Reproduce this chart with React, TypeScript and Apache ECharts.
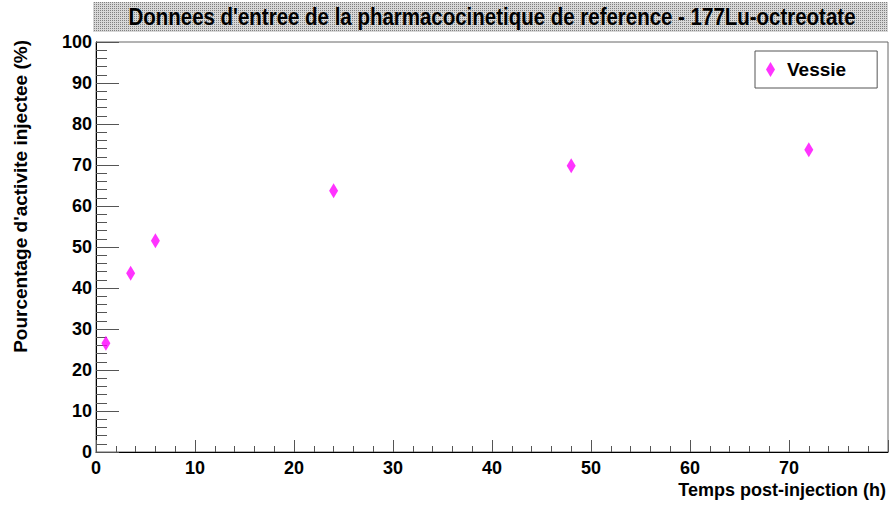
import React, { useEffect, useRef } from "react";
import * as echarts from "echarts";

const chartTitle = "Donnees d'entree de la pharmacocinetique de reference - 177Lu-octreotate";
const xTitle = "Temps post-injection (h)";
const yTitle = "Pourcentage d'activite injectee (%)";
const seriesName = "Vessie";
const timesH = [1, 3.5, 6, 24, 48, 72];
const vessie = [26.5, 43.6, 51.5, 63.7, 69.8, 73.7];

const FONT = "'Liberation Sans', Arial, Helvetica, sans-serif";
const DIAMOND = "path://M0,-10 L6,0 L0,10 L-6,0 Z";

function makePattern(): string {
  const c = document.createElement("canvas");
  c.width = 2;
  c.height = 2;
  const ctx = c.getContext("2d")!;
  ctx.fillStyle = "#d8d8d8";
  ctx.fillRect(0, 0, 2, 2);
  ctx.fillStyle = "#808080";
  ctx.fillRect(0, 0, 1, 1);
  return c.toDataURL();
}

export default function App() {
  const ref = useRef<HTMLDivElement>(null);
  useEffect(() => {
    if (!ref.current) return;
    const chart = echarts.init(ref.current, undefined, { renderer: "svg" });
    let fill: any = "#c6c6c6";
    try {
      fill = { image: makePattern(), repeat: "repeat", imageWidth: 2, imageHeight: 2 };
    } catch (e) {
      fill = "#c6c6c6";
    }
    chart.setOption({
      animation: false,
      backgroundColor: "#ffffff",
      grid: {
        left: 96,
        top: 42,
        right: 2,
        bottom: 55,
        show: true,
        borderColor: "#666",
        borderWidth: 1,
      },
      legend: {
        left: 755,
        top: 51,
        orient: "horizontal",
        backgroundColor: "#fff",
        borderColor: "#555",
        borderWidth: 1,
        padding: [9, 31, 9, 11],
        itemWidth: 9,
        itemHeight: 15,
        itemGap: 8,
        icon: DIAMOND,
        textStyle: {
          fontFamily: FONT,
          fontWeight: "bold",
          fontSize: 19,
          color: "#000",
          padding: [0, 0, 0, 7],
        },
        data: [seriesName],
      },
      xAxis: {
        type: "value",
        min: 0,
        max: 80,
        interval: 10,
        axisLine: { show: true, onZero: false, lineStyle: { color: "#000", width: 1 } },
        axisTick: { show: true, inside: true, length: 12, lineStyle: { color: "#555" } },
        minorTick: { show: true, splitNumber: 5, length: 6, lineStyle: { color: "#555" } },
        splitLine: { show: false },
        axisLabel: {
          showMaxLabel: false,
          margin: 7,
          fontFamily: FONT,
          fontWeight: "bold",
          fontSize: 18,
          color: "#000",
        },
      },
      yAxis: {
        type: "value",
        min: 0,
        max: 100,
        interval: 10,
        axisLine: { show: true, onZero: false, lineStyle: { color: "#000", width: 1 } },
        axisTick: { show: true, inside: true, length: 23, lineStyle: { color: "#555" } },
        minorTick: { show: true, splitNumber: 5, length: 11, lineStyle: { color: "#555" } },
        splitLine: { show: false },
        axisLabel: {
          margin: 4,
          fontFamily: FONT,
          fontWeight: "bold",
          fontSize: 18,
          color: "#000",
        },
      },
      series: [
        {
          name: seriesName,
          type: "scatter",
          data: timesH.map((t, i) => [t, vessie[i]]),
          symbol: DIAMOND,
          symbolSize: [9, 15],
          itemStyle: { color: "#ff00ff" },
        },
      ],
      graphic: [
        {
          type: "rect",
          shape: { x: 93, y: 2, width: 795, height: 30 },
          style: { fill },
          silent: true,
        },
        {
          type: "text",
          x: 492,
          y: 17,
          scaleX: 0.89,
          style: {
            text: chartTitle,
            fontFamily: FONT,
            fontWeight: "bold",
            fontSize: 23,
            fill: "#000",
            align: "center",
            verticalAlign: "middle",
          },
        },
        {
          type: "text",
          x: 20,
          y: 40,
          rotation: Math.PI / 2,
          style: {
            text: yTitle,
            fontFamily: FONT,
            fontWeight: "bold",
            fontSize: 19,
            fill: "#000",
            align: "right",
            verticalAlign: "middle",
          },
        },
        {
          type: "text",
          x: 886,
          y: 490,
          style: {
            text: xTitle,
            fontFamily: FONT,
            fontWeight: "bold",
            fontSize: 18,
            fill: "#000",
            align: "right",
            verticalAlign: "middle",
          },
        },
      ],
    });
    return () => chart.dispose();
  }, []);
  return <div ref={ref} style={{ width: 890, height: 507, position: "absolute", left: 0, top: 0 }} />;
}
